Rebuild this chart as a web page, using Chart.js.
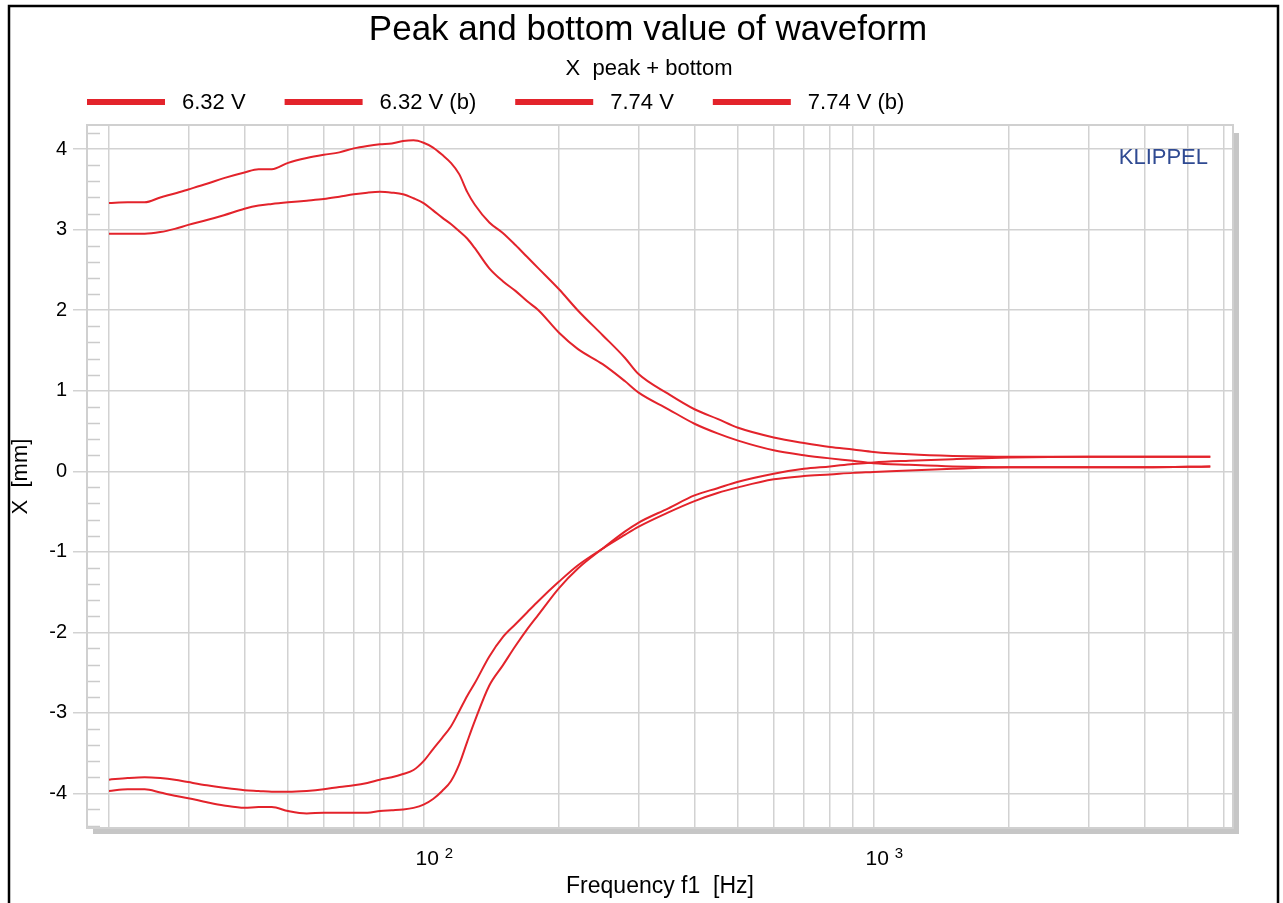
<!DOCTYPE html>
<html>
<head>
<meta charset="utf-8">
<script src="https://cdn.jsdelivr.net/npm/chart.js@4.4.1/dist/chart.umd.min.js"></script>
<style>
html,body{margin:0;padding:0;background:#fff;}
canvas{display:block;}
</style>
</head>
<body>
<canvas id="c" width="1283" height="903"></canvas>
<script>
// ---------- texts ----------
const chartTitle = 'Peak and bottom value of waveform';
const chartSubtitle = 'X  peak + bottom';
const xAxisTitle = 'Frequency f1  [Hz]';
const yAxisTitle = 'X  [mm]';
const watermark = 'KLIPPEL';
const seriesLabels = ['6.32 V', '6.32 V (b)', '7.74 V', '7.74 V (b)'];

// ---------- data ----------
const freqHz = [20, 22, 24, 26, 28, 30, 33, 36, 40, 43, 46, 50, 55, 60, 65, 70, 75, 80, 85, 90, 95,
  100, 105, 110, 115, 120, 125, 130, 140, 150, 160, 170, 180, 200, 220, 250, 280, 300, 350, 400,
  450, 500, 600, 700, 800, 900, 1000, 1200, 1500, 2000, 3000, 4000, 5600];

const peak632 = [2.95, 2.95, 2.95, 2.97, 3.01, 3.06, 3.12, 3.18, 3.26, 3.30, 3.32, 3.34, 3.36, 3.38, 3.41, 3.44, 3.46, 3.47, 3.46, 3.44, 3.39,
  3.33, 3.24, 3.15, 3.07, 2.98, 2.89, 2.77, 2.52, 2.36, 2.24, 2.11, 2.00, 1.72, 1.52, 1.33, 1.12, 0.98, 0.77, 0.59,
  0.47, 0.38, 0.26, 0.20, 0.16, 0.13, 0.10, 0.08, 0.06, 0.05, 0.05, 0.05, 0.06];

const bottom632 = [-3.83, -3.81, -3.80, -3.81, -3.83, -3.86, -3.90, -3.93, -3.96, -3.97, -3.98, -3.98, -3.97, -3.95, -3.92, -3.90, -3.87, -3.83, -3.80, -3.76, -3.71,
  -3.60, -3.45, -3.31, -3.17, -2.98, -2.79, -2.63, -2.30, -2.06, -1.90, -1.75, -1.61, -1.37, -1.17, -0.96, -0.79, -0.69, -0.51, -0.37,
  -0.27, -0.20, -0.10, -0.06, -0.04, -0.02, -0.01, 0.01, 0.03, 0.05, 0.05, 0.05, 0.06];

const peak774 = [3.33, 3.34, 3.34, 3.40, 3.45, 3.50, 3.57, 3.64, 3.71, 3.75, 3.75, 3.83, 3.89, 3.93, 3.96, 4.01, 4.04, 4.06, 4.07, 4.10, 4.11,
  4.08, 4.02, 3.93, 3.83, 3.69, 3.47, 3.31, 3.09, 2.96, 2.81, 2.66, 2.52, 2.26, 2.00, 1.69, 1.41, 1.21, 0.96, 0.77,
  0.65, 0.54, 0.42, 0.35, 0.30, 0.27, 0.24, 0.21, 0.19, 0.18, 0.18, 0.18, 0.18];

const bottom774 = [-3.97, -3.95, -3.95, -3.99, -4.03, -4.06, -4.11, -4.15, -4.18, -4.17, -4.17, -4.22, -4.25, -4.24, -4.24, -4.24, -4.24, -4.22, -4.21, -4.20, -4.18,
  -4.14, -4.07, -3.97, -3.85, -3.64, -3.36, -3.10, -2.66, -2.41, -2.17, -1.96, -1.78, -1.45, -1.21, -0.96, -0.75, -0.64, -0.46, -0.30,
  -0.21, -0.13, -0.03, 0.03, 0.06, 0.09, 0.11, 0.13, 0.15, 0.17, 0.18, 0.18, 0.18];

// ---------- axes ----------
const xGridValues = [20, 30, 40, 50, 60, 70, 80, 90, 100, 200, 300, 400, 500, 600, 700, 800, 900, 1000, 2000, 3000, 4000, 5000, 6000];
const xLabelDecades = [2, 3];
const yTickValues = [-4, -3, -2, -1, 0, 1, 2, 3, 4];
const xMin = 17.87, xMax = 6290;
const yMin = -4.43, yMax = 4.30;
const yMinorStep = 0.2;

const RED = '#e3232b';
const GRID = '#d2d2d2';
const FONT = '"Liberation Sans", Arial, Helvetica, sans-serif';

function pts(arr) { return freqHz.map((f, i) => ({ x: f, y: arr[i] })); }
const seriesValues = [peak632, bottom632, peak774, bottom774];

const decorPlugin = {
  id: 'decor',
  beforeDraw(chart) {
    const ctx = chart.ctx;
    const a = chart.chartArea;
    ctx.save();
    ctx.fillStyle = '#fff';
    ctx.fillRect(0, 0, chart.width, chart.height);
    // outer black frame
    ctx.strokeStyle = '#000';
    ctx.lineWidth = 2.5;
    ctx.beginPath();
    ctx.moveTo(9, chart.height + 5);
    ctx.lineTo(9, 6);
    ctx.lineTo(1278, 6);
    ctx.lineTo(1278, chart.height + 5);
    ctx.stroke();
    // shadow of plot box
    ctx.fillStyle = '#c6c6c6';
    ctx.fillRect(a.right, a.top + 8, 6, a.bottom - a.top - 2);
    ctx.fillRect(a.left + 6, a.bottom, a.right - a.left, 6);
    ctx.restore();
  },
  beforeDatasetsDraw(chart) {
    const ctx = chart.ctx;
    const a = chart.chartArea;
    const ys = chart.scales.y;
    ctx.save();
    // minor ticks on the left margin
    ctx.strokeStyle = '#cbcbcb';
    ctx.lineWidth = 1.5;
    ctx.beginPath();
    const n0 = Math.ceil(yMin / yMinorStep), n1 = Math.floor(yMax / yMinorStep);
    for (let n = n0; n <= n1; n++) {
      if (n % 5 === 0) continue;
      const y = Math.round(ys.getPixelForValue(n * yMinorStep)) + 0.5;
      ctx.moveTo(a.left + 1, y);
      ctx.lineTo(a.left + 13, y);
    }
    ctx.stroke();
    // plot frame
    ctx.strokeStyle = '#d0d0d0';
    ctx.lineWidth = 2;
    ctx.strokeRect(a.left, a.top, a.right - a.left, a.bottom - a.top);
    ctx.restore();
  },
  afterDraw(chart) {
    const ctx = chart.ctx;
    const a = chart.chartArea;
    const xs = chart.scales.x;
    ctx.save();
    ctx.fillStyle = '#000';
    ctx.textBaseline = 'alphabetic';
    // title + subtitle
    ctx.textAlign = 'center';
    ctx.font = '35px ' + FONT;
    ctx.fillText(chartTitle, 648, 40);
    ctx.font = '22px ' + FONT;
    ctx.fillText(chartSubtitle, 649, 75);
    // legend
    ctx.textAlign = 'left';
    ctx.font = '22px ' + FONT;
    let x = 87;
    chart.data.datasets.forEach(ds => {
      ctx.fillStyle = ds.borderColor;
      ctx.fillRect(x, 99, 78, 6);
      ctx.fillStyle = '#000';
      ctx.fillText(ds.label, x + 95, 109);
      x += 95 + ctx.measureText(ds.label).width + 39;
    });
    // watermark
    ctx.textAlign = 'right';
    ctx.fillStyle = '#2f4a92';
    ctx.font = '22px ' + FONT;
    ctx.fillText(watermark, 1208, 164);
    // x decade labels 10^n
    ctx.fillStyle = '#000';
    ctx.textAlign = 'left';
    xLabelDecades.forEach(e => {
      const px = xs.getPixelForValue(Math.pow(10, e));
      ctx.font = '21px ' + FONT;
      ctx.fillText('10', px - 8, 865);
      const w = ctx.measureText('10 ').width;
      ctx.font = '15px ' + FONT;
      ctx.fillText(String(e), px - 8 + w, 858);
    });
    ctx.restore();
  }
};

new Chart(document.getElementById('c'), {
  type: 'line',
  data: {
    datasets: seriesLabels.map((lab, i) => ({
      label: lab,
      data: pts(seriesValues[i]),
      borderColor: RED,
      backgroundColor: RED,
      borderWidth: 2,
      pointRadius: 0,
      fill: false,
      cubicInterpolationMode: 'monotone',
      tension: 0.4
    }))
  },
  options: {
    responsive: false,
    animation: false,
    events: [],
    layout: { padding: { left: 0, right: 50, top: 125, bottom: 0 } },
    plugins: {
      legend: { display: false },
      title: { display: false },
      tooltip: { enabled: false }
    },
    scales: {
      x: {
        type: 'logarithmic',
        min: xMin,
        max: xMax,
        afterBuildTicks: s => { s.ticks = xGridValues.map(v => ({ value: v })); },
        afterFit: s => { s.height = 75; },
        ticks: { display: false },
        grid: { color: GRID, lineWidth: 1.5, drawTicks: false },
        border: { display: false },
        title: {
          display: true,
          text: xAxisTitle,
          color: '#000',
          font: { family: FONT, size: 23 },
          padding: { top: 0, bottom: 3 }
        }
      },
      y: {
        type: 'linear',
        min: yMin,
        max: yMax,
        afterBuildTicks: s => { s.ticks = yTickValues.map(v => ({ value: v })); },
        afterFit: s => { s.width = 87; },
        ticks: {
          color: '#000',
          font: { family: FONT, size: 20 },
          padding: 6,
          callback: v => String(v)
        },
        grid: { color: GRID, lineWidth: 1.5, tickLength: 14 },
        border: { display: false },
        title: {
          display: true,
          text: yAxisTitle,
          color: '#000',
          font: { family: FONT, size: 22 },
          padding: { top: 8, bottom: 0 }
        }
      }
    }
  },
  plugins: [decorPlugin]
});
</script>
</body>
</html>
